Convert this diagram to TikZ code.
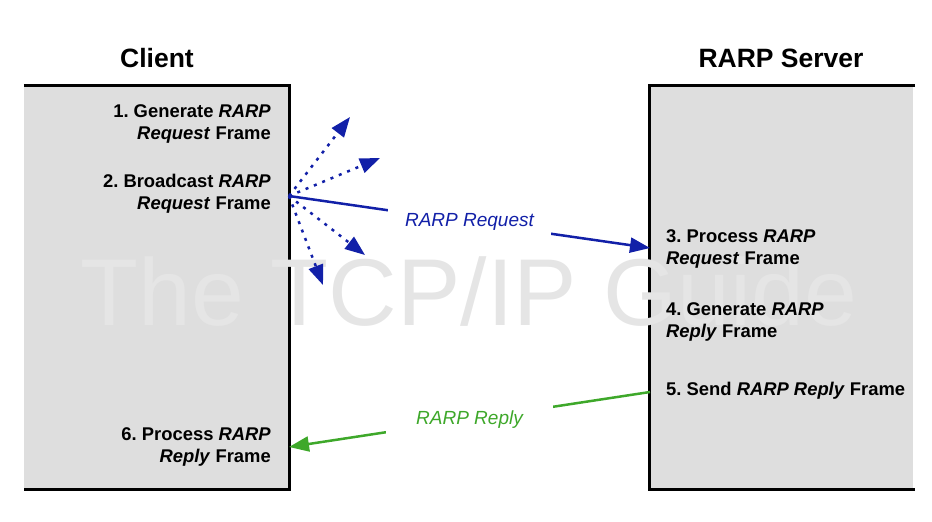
\documentclass[tikz,border=0pt]{standalone}
\usepackage{fontspec}
\setmainfont{Liberation Sans}
\usetikzlibrary{arrows.meta}
\definecolor{boxgray}{RGB}{222,222,222}
\definecolor{reqblue}{RGB}{18,32,168}
\definecolor{replygreen}{RGB}{62,168,42}
\newcommand{\stepfont}{\fontsize{18.4}{22}\selectfont\bfseries}
\frenchspacing

\begin{document}
\begin{tikzpicture}[x=1pt,y=-1pt,
  hostbox/.style={fill=boxgray,minimum height=403pt,inner sep=0pt},
  edge/.style={line width=3pt},
  title/.style={font=\fontsize{26.5}{30}\selectfont\bfseries},
  steptext/.style={font=\stepfont,inner sep=0pt},
  msg/.style={line width=2.5pt,-{Triangle[length=20pt,width=15pt]}},
  bcast/.style={msg,dash pattern=on 3pt off 6pt},
  msglabel/.style={font=\fontsize{19}{22}\selectfont\itshape,fill=white,inner xsep=17pt,inner ysep=7pt}]
\useasboundingbox (0,0) rectangle (932,522);

\node[hostbox,minimum width=265pt] (client) at (156.5,287.5) {};
\node[hostbox,minimum width=263pt] (server) at (781.5,287.5) {};
\draw[edge] (client.north west) -- (client.north east) -- (client.south east) -- (client.south west);
\draw[edge] ([xshift=2pt]server.north east) -- (server.north west) -- (server.south west) -- ([xshift=2pt]server.south east);

\node[title] (clienttitle) at (157,58) {Client};
\node[title] (servertitle) at (781,58) {RARP Server};

\node[font=\fontsize{95}{100}\selectfont,text=black!10] (mark) at (469,292) {The TCP/IP Guide};

\node[steptext,align=right,anchor=east] (s1) at (271,124) {1. Generate \textit{RARP}\\\textit{Request} Frame};
\node[steptext,align=right,anchor=east] (s2) at (271,194) {2. Broadcast \textit{RARP}\\\textit{Request} Frame};
\node[steptext,align=left,anchor=west] (s3) at (666,249) {3. Process \textit{RARP}\\\textit{Request} Frame};
\node[steptext,align=left,anchor=west] (s4) at (666,322) {4. Generate \textit{RARP}\\\textit{Reply} Frame};
\node[steptext,anchor=west] (s5) at (666,391) {5. Send \textit{RARP Reply} Frame};
\node[steptext,align=right,anchor=east] (s6) at (271,447) {6. Process \textit{RARP}\\\textit{Reply} Frame};

\coordinate (bc) at (289,196);
\coordinate (b1) at (350,117);
\coordinate (b2) at (380,158);
\coordinate (b3) at (365,255);
\coordinate (b4) at (323,285);
\coordinate (reqin) at (650,248);
\coordinate (repout) at (650,392);
\coordinate (repin) at (289,447);

\draw[bcast,reqblue] (bc) -- (b1);
\draw[bcast,reqblue] (bc) -- (b2);
\draw[bcast,reqblue] (bc) -- (b3);
\draw[bcast,reqblue] (bc) -- (b4);
\draw[msg,reqblue] (bc) -- node[msglabel,text=reqblue] (reqlabel) {RARP Request} (reqin);
\draw[msg,replygreen] (repout) -- node[msglabel,text=replygreen,inner xsep=30pt] (replylabel) {RARP Reply} (repin);
\end{tikzpicture}
\end{document}
